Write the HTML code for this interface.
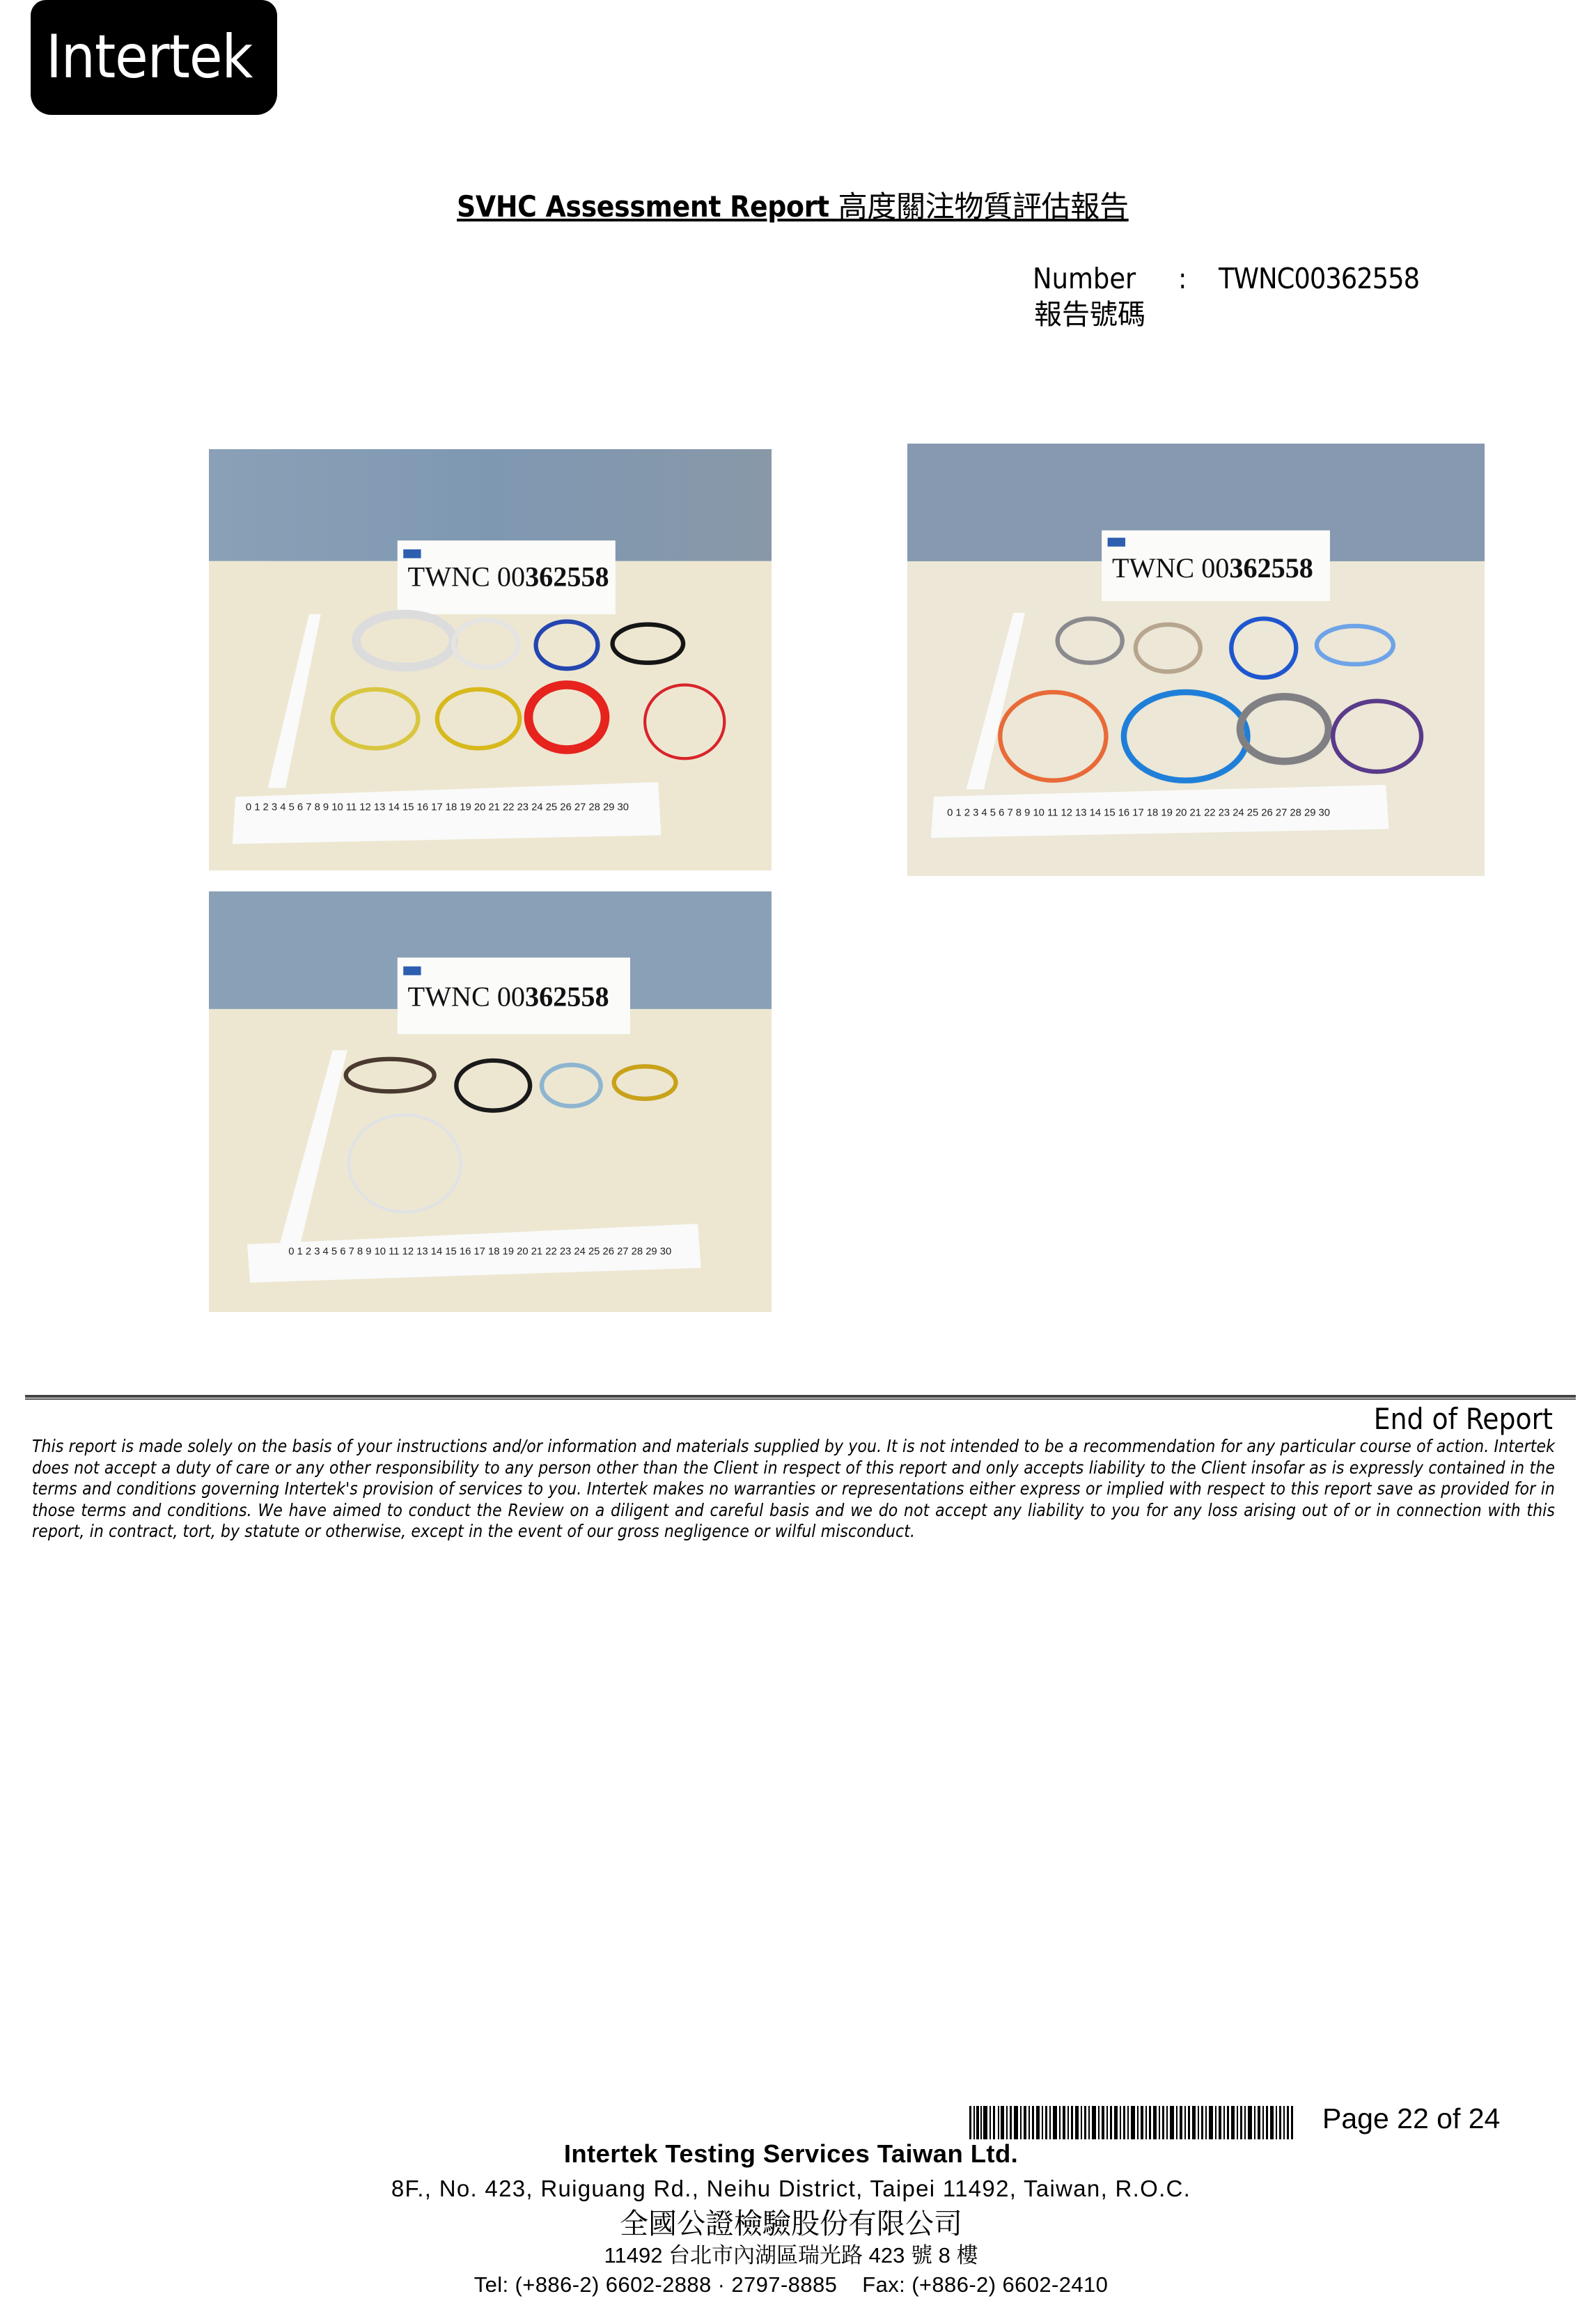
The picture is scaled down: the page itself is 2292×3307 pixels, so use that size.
<!DOCTYPE html>
<html><head><meta charset="utf-8">
<style>
body{margin:0;background:#fff;}
#page{position:relative;width:2292px;height:3307px;overflow:hidden;background:#fff;font-family:"DejaVu Sans Condensed","DejaVu Sans","Noto Sans CJK TC",sans-serif;color:#000;}
.abs{position:absolute;white-space:nowrap;}
.photo{position:absolute;}
.photo svg{width:100%;height:100%;display:block;}
</style></head>
<body>
<div id="page">
  <div class="abs" style="left:44px;top:0;width:354px;height:165px;background:#000;border-radius:22px 22px 30px 30px;">
    <div class="abs" style="left:22px;top:32px;font-size:86px;line-height:100px;color:#fff;font-family:'DejaVu Sans Condensed','DejaVu Sans',sans-serif;letter-spacing:-1px;">Intertek</div>
  </div>

  <div class="abs" style="left:656px;top:268px;font-size:42px;line-height:52px;font-weight:bold;text-decoration:underline;letter-spacing:-0.3px;">SVHC Assessment Report <span style="font-weight:normal;font-family:'Noto Sans CJK TC',sans-serif;">高度關注物質評估報告</span></div>

  <div class="abs" style="left:1483px;top:374px;font-size:41px;line-height:52px;">Number</div>
  <div class="abs" style="left:1692px;top:374px;font-size:41px;line-height:52px;">:</div>
  <div class="abs" style="left:1750px;top:374px;font-size:41px;line-height:52px;letter-spacing:-1px;">TWNC00362558</div>
  <div class="abs" style="left:1485px;top:422px;font-size:40px;line-height:52px;font-family:'Noto Sans CJK TC',sans-serif;">報告號碼</div>

  <div class="photo" style="left:300px;top:645px;width:808px;height:605px;">
    <svg viewBox="0 0 382 286" preserveAspectRatio="none">
      <defs>
        <linearGradient id="w1" x1="0" y1="0" x2="1" y2="0"><stop offset="0" stop-color="#8aa0b6"/><stop offset="0.5" stop-color="#7f98b2"/><stop offset="1" stop-color="#8898a8"/></linearGradient>
      </defs>
      <rect width="382" height="76" fill="url(#w1)"/>
      <rect y="76" width="382" height="210" fill="#ede7d2"/>
      <rect x="128" y="62" width="148" height="50" fill="#fbfbfa"/>
      <rect x="132" y="68" width="12" height="6" fill="#2d5fb0"/>
      <text x="135" y="93" font-family="Liberation Serif,serif" font-size="19" fill="#111">TWNC 00<tspan font-weight="bold">362558</tspan></text>
      <polygon points="40,230 68,112 76,112 52,230" fill="#fafafa"/>
      <polygon points="18,236 305,226 307,262 16,268" fill="#fafafa"/>
      <text x="25" y="245" font-family="Liberation Sans,sans-serif" font-size="7" fill="#222">0 1 2 3 4 5 6 7 8 9 10 11 12 13 14 15 16 17 18 19 20 21 22 23 24 25 26 27 28 29 30</text>
      <g fill="none" stroke-width="3">
        <ellipse cx="133" cy="130" rx="33" ry="18" stroke="#dcdcdc" stroke-width="6"/>
        <ellipse cx="188" cy="132" rx="22" ry="16" stroke="#e4e4e4"/>
        <ellipse cx="243" cy="133" rx="21" ry="16" stroke="#2446b0"/>
        <ellipse cx="298" cy="132" rx="24" ry="13" stroke="#151515"/>
        <ellipse cx="113" cy="183" rx="29" ry="20" stroke="#d9c640"/>
        <ellipse cx="183" cy="183" rx="28" ry="20" stroke="#d7b91c"/>
        <ellipse cx="243" cy="182" rx="26" ry="22" stroke="#e6231d" stroke-width="6"/>
        <ellipse cx="323" cy="185" rx="27" ry="25" stroke="#d9242a" stroke-width="2"/>
      </g>
    </svg>
  </div>

  <div class="photo" style="left:1303px;top:637px;width:829px;height:621px;">
    <svg viewBox="0 0 392 294" preserveAspectRatio="none">
      <rect width="392" height="80" fill="#8699b0"/>
      <rect y="80" width="392" height="214" fill="#ece7d6"/>
      <rect x="132" y="59" width="155" height="48" fill="#fbfbfa"/>
      <rect x="136" y="64" width="12" height="6" fill="#2d5fb0"/>
      <text x="139" y="91" font-family="Liberation Serif,serif" font-size="19" fill="#111">TWNC 00<tspan font-weight="bold">362558</tspan></text>
      <polygon points="40,235 72,115 80,115 52,235" fill="#fafafa"/>
      <polygon points="18,240 325,232 327,262 16,268" fill="#fafafa"/>
      <text x="27" y="253" font-family="Liberation Sans,sans-serif" font-size="7" fill="#222">0 1 2 3 4 5 6 7 8 9 10 11 12 13 14 15 16 17 18 19 20 21 22 23 24 25 26 27 28 29 30</text>
      <g fill="none" stroke-width="3">
        <ellipse cx="124" cy="134" rx="22" ry="15" stroke="#8a8a8e"/>
        <ellipse cx="177" cy="139" rx="22" ry="16" stroke="#b7a58e"/>
        <ellipse cx="242" cy="139" rx="22" ry="20" stroke="#1e56d0"/>
        <ellipse cx="304" cy="137" rx="26" ry="13" stroke="#6ea3e8"/>
        <ellipse cx="99" cy="199" rx="36" ry="30" stroke="#e86a38"/>
        <ellipse cx="189" cy="199" rx="42" ry="30" stroke="#1f7fd8" stroke-width="4"/>
        <ellipse cx="256" cy="194" rx="30" ry="22" stroke="#808084" stroke-width="5"/>
        <ellipse cx="319" cy="199" rx="30" ry="24" stroke="#5a3a8a"/>
      </g>
    </svg>
  </div>

  <div class="photo" style="left:300px;top:1280px;width:808px;height:604px;">
    <svg viewBox="0 0 382 286" preserveAspectRatio="none">
      <rect width="382" height="80" fill="#8aa0b6"/>
      <rect y="80" width="382" height="206" fill="#ede7d2"/>
      <rect x="128" y="45" width="158" height="52" fill="#fbfbfa"/>
      <rect x="132" y="51" width="12" height="6" fill="#2d5fb0"/>
      <text x="135" y="78" font-family="Liberation Serif,serif" font-size="19" fill="#111">TWNC 00<tspan font-weight="bold">362558</tspan></text>
      <polygon points="48,240 84,108 94,108 62,240" fill="#fafafa"/>
      <polygon points="26,240 332,226 334,256 28,266" fill="#fafafa"/>
      <text x="54" y="247" font-family="Liberation Sans,sans-serif" font-size="7" fill="#222">0 1 2 3 4 5 6 7 8 9 10 11 12 13 14 15 16 17 18 19 20 21 22 23 24 25 26 27 28 29 30</text>
      <g fill="none" stroke-width="3">
        <ellipse cx="123" cy="125" rx="30" ry="11" stroke="#4a3a30"/>
        <ellipse cx="193" cy="132" rx="25" ry="17" stroke="#1a1a1a"/>
        <ellipse cx="246" cy="132" rx="20" ry="14" stroke="#8fb5d0"/>
        <ellipse cx="296" cy="130" rx="21" ry="11" stroke="#c8a21a"/>
        <ellipse cx="133" cy="185" rx="38" ry="33" stroke="#e0e2e4" stroke-width="2"/>
      </g>
    </svg>
  </div>

  <div class="abs" style="left:36px;top:2003px;width:2227px;height:4px;background:#444;"></div>
  <div class="abs" style="left:36px;top:2008px;width:2227px;height:2px;background:#555;"></div>

  <div class="abs" style="right:62px;top:2012px;font-size:42px;line-height:52px;">End of Report</div>

  <div class="abs" style="left:46px;top:2062px;width:2187px;white-space:normal;font-size:24.5px;line-height:30.6px;font-style:italic;text-align:justify;letter-spacing:0.1px;">This report is made solely on the basis of your instructions and/or information and materials supplied by you. It is not intended to be a recommendation for any particular course of action. Intertek does not accept a duty of care or any other responsibility to any person other than the Client in respect of this report and only accepts liability to the Client insofar as is expressly contained in the terms and conditions governing Intertek's provision of services to you. Intertek makes no warranties or representations either express or implied with respect to this report save as provided for in those terms and conditions. We have aimed to conduct the Review on a diligent and careful basis and we do not accept any liability to you for any loss arising out of or in connection with this report, in contract, tort, by statute or otherwise, except in the event of our gross negligence or wilful misconduct.</div>

  <svg class="abs" style="left:1392px;top:3024px;" width="465" height="48" viewBox="0 0 465 48">
    <g fill="#000">
      <rect x="0" y="0" width="3" height="48"/><rect x="6" y="0" width="2" height="48"/><rect x="10" y="0" width="4" height="48"/><rect x="16" y="0" width="2" height="48"/><rect x="20" y="0" width="6" height="48"/><rect x="29" y="0" width="2" height="48"/><rect x="34" y="0" width="3" height="48"/><rect x="41" y="0" width="2" height="48"/><rect x="45" y="0" width="5" height="48"/><rect x="53" y="0" width="2" height="48"/><rect x="58" y="0" width="3" height="48"/><rect x="64" y="0" width="6" height="48"/><rect x="73" y="0" width="2" height="48"/><rect x="78" y="0" width="4" height="48"/><rect x="85" y="0" width="2" height="48"/><rect x="90" y="0" width="3" height="48"/><rect x="96" y="0" width="5" height="48"/><rect x="104" y="0" width="2" height="48"/><rect x="109" y="0" width="3" height="48"/><rect x="115" y="0" width="2" height="48"/><rect x="120" y="0" width="6" height="48"/><rect x="129" y="0" width="2" height="48"/><rect x="134" y="0" width="4" height="48"/><rect x="141" y="0" width="2" height="48"/><rect x="146" y="0" width="3" height="48"/><rect x="152" y="0" width="5" height="48"/><rect x="160" y="0" width="2" height="48"/><rect x="165" y="0" width="3" height="48"/><rect x="171" y="0" width="2" height="48"/><rect x="176" y="0" width="6" height="48"/><rect x="185" y="0" width="2" height="48"/><rect x="190" y="0" width="4" height="48"/><rect x="197" y="0" width="2" height="48"/><rect x="202" y="0" width="3" height="48"/><rect x="208" y="0" width="5" height="48"/><rect x="216" y="0" width="2" height="48"/><rect x="221" y="0" width="3" height="48"/><rect x="227" y="0" width="2" height="48"/><rect x="232" y="0" width="6" height="48"/><rect x="241" y="0" width="2" height="48"/><rect x="246" y="0" width="4" height="48"/><rect x="253" y="0" width="2" height="48"/><rect x="258" y="0" width="3" height="48"/><rect x="264" y="0" width="5" height="48"/><rect x="272" y="0" width="2" height="48"/><rect x="277" y="0" width="3" height="48"/><rect x="283" y="0" width="2" height="48"/><rect x="288" y="0" width="6" height="48"/><rect x="297" y="0" width="2" height="48"/><rect x="302" y="0" width="4" height="48"/><rect x="309" y="0" width="2" height="48"/><rect x="314" y="0" width="3" height="48"/><rect x="320" y="0" width="5" height="48"/><rect x="328" y="0" width="2" height="48"/><rect x="333" y="0" width="3" height="48"/><rect x="339" y="0" width="2" height="48"/><rect x="344" y="0" width="6" height="48"/><rect x="353" y="0" width="2" height="48"/><rect x="358" y="0" width="4" height="48"/><rect x="365" y="0" width="2" height="48"/><rect x="370" y="0" width="3" height="48"/><rect x="376" y="0" width="5" height="48"/><rect x="384" y="0" width="2" height="48"/><rect x="389" y="0" width="3" height="48"/><rect x="395" y="0" width="2" height="48"/><rect x="400" y="0" width="6" height="48"/><rect x="409" y="0" width="2" height="48"/><rect x="414" y="0" width="4" height="48"/><rect x="421" y="0" width="2" height="48"/><rect x="426" y="0" width="3" height="48"/><rect x="432" y="0" width="5" height="48"/><rect x="440" y="0" width="2" height="48"/><rect x="445" y="0" width="3" height="48"/><rect x="451" y="0" width="2" height="48"/><rect x="456" y="0" width="3" height="48"/><rect x="462" y="0" width="3" height="48"/>
    </g>
  </svg>
  <div class="abs" style="left:1899px;top:3014px;font-size:41px;line-height:56px;font-family:'Liberation Sans',sans-serif;">Page 22 of 24</div>

  <div class="abs" style="left:0;width:2272px;text-align:center;top:3071px;font-size:36.5px;line-height:44px;font-weight:bold;font-family:'Liberation Sans',sans-serif;letter-spacing:0.4px;">Intertek Testing Services Taiwan Ltd.</div>
  <div class="abs" style="left:0;width:2272px;text-align:center;top:3122px;font-size:33px;line-height:42px;font-family:'Liberation Sans',sans-serif;letter-spacing:1.3px;">8F., No. 423, Ruiguang Rd., Neihu District, Taipei 11492, Taiwan, R.O.C.</div>
  <div class="abs" style="left:0;width:2272px;text-align:center;top:3164px;font-size:41px;line-height:52px;font-family:'Noto Serif CJK SC','Noto Sans CJK TC',serif;">全國公證檢驗股份有限公司</div>
  <div class="abs" style="left:0;width:2272px;text-align:center;top:3218px;font-size:31px;line-height:42px;font-family:'Liberation Sans','Noto Serif CJK SC',sans-serif;">11492 台北市內湖區瑞光路 423 號 8 樓</div>
  <div class="abs" style="left:0;width:2272px;text-align:center;top:3260px;font-size:31px;line-height:42px;font-family:'Liberation Sans',sans-serif;letter-spacing:0.4px;">Tel: (+886-2) 6602-2888 · 2797-8885&nbsp;&nbsp;&nbsp; Fax: (+886-2) 6602-2410</div>
</div>
</body></html>
